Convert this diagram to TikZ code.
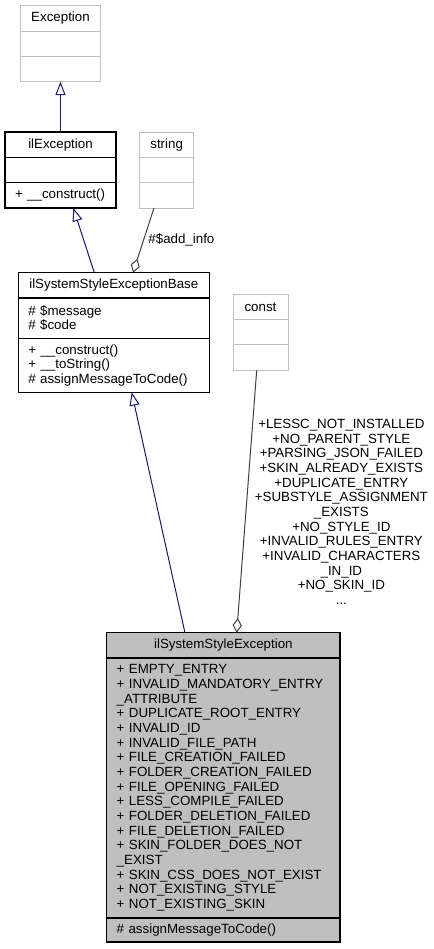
\documentclass[tikz,border=0pt]{standalone}
\usepackage{fontspec}
\setmainfont{Liberation Sans}
\usetikzlibrary{arrows.meta}
\definecolor{grey75}{HTML}{BFBFBF}
\definecolor{grey25}{HTML}{404040}
\definecolor{midnightblue}{HTML}{191970}

\begin{document}
\begin{tikzpicture}[x=0.75pt,y=-0.75pt,
    font=\fontsize{10pt}{11pt}\selectfont,
    part/.style={rectangle,anchor=north west,inner xsep=7.5pt,inner ysep=1pt,outer sep=0pt},
    greybox/.style={part,draw=grey75,line width=0.75pt},
    blackbox/.style={part,draw=black,line width=1pt},
    shaded/.style={fill=grey75},
    inherit/.style={draw=midnightblue,line width=0.75pt,-{Triangle[open,length=10pt,width=7.5pt]}},
    usage/.style={draw=grey25,line width=0.75pt,-{Diamond[open,length=11pt,width=7pt]}}]
  \useasboundingbox (0,0) rectangle (433,949);

  % Exception
  \node[greybox,minimum width=60pt,minimum height=19pt,text width=45pt,align=center] (exc) at (20.5,5.7) {Exception};
  \node[greybox,minimum width=60pt,minimum height=19pt] (exca) at (exc.south west) {};
  \node[greybox,minimum width=60pt,minimum height=19pt] (exco) at (exca.south west) {};

  % ilException
  \node[blackbox,minimum width=83.25pt,minimum height=19pt,text width=68.25pt,align=center] (ilexc) at (5,132) {ilException};
  \node[blackbox,minimum width=83.25pt,minimum height=19pt] (ilexca) at (ilexc.south west) {};
  \node[blackbox,minimum width=83.25pt,minimum height=19pt,text width=68.25pt,align=left] (ilexco) at (ilexca.south west) {+ \_\_construct()};

  % string
  \node[greybox,minimum width=41pt,minimum height=19pt,text width=26pt,align=center] (str) at (139.3,132) {string};
  \node[greybox,minimum width=41pt,minimum height=19pt] (stra) at (str.south west) {};
  \node[greybox,minimum width=41pt,minimum height=19pt] (stro) at (stra.south west) {};

  % ilSystemStyleExceptionBase
  \node[blackbox,minimum width=143.25pt,minimum height=19pt,text width=128.25pt,align=center] (base) at (18.3,272.7) {ilSystemStyleExceptionBase};
  \node[blackbox,minimum width=143.25pt,minimum height=30.2pt,text width=128.25pt,align=left] (basea) at (base.south west) {\# \$message\\\# \$code};
  \node[blackbox,minimum width=143.25pt,minimum height=40.5pt,text width=128.25pt,align=left] (baseo) at (basea.south west) {+ \_\_construct()\\+ \_\_toString()\\\# assignMessageToCode()};

  % const
  \node[greybox,minimum width=41.25pt,minimum height=19pt,text width=26.25pt,align=center] (const) at (233,294.3) {const};
  \node[greybox,minimum width=41.25pt,minimum height=19pt] (consta) at (const.south west) {};
  \node[greybox,minimum width=41.25pt,minimum height=19pt] (consto) at (consta.south west) {};

  % ilSystemStyleException
  \node[blackbox,shaded,minimum width=175pt,minimum height=19pt,text width=160pt,align=center] (ilsse) at (106.7,632.7) {ilSystemStyleException};
  \node[blackbox,shaded,minimum width=175pt,minimum height=195pt,text width=160pt,align=left] (ilssea) at (ilsse.south west) {+ EMPTY\_ENTRY\\+ INVALID\_MANDATORY\_ENTRY\\\_ATTRIBUTE\\+ DUPLICATE\_ROOT\_ENTRY\\+ INVALID\_ID\\+ INVALID\_FILE\_PATH\\+ FILE\_CREATION\_FAILED\\+ FOLDER\_CREATION\_FAILED\\+ FILE\_OPENING\_FAILED\\+ LESS\_COMPILE\_FAILED\\+ FOLDER\_DELETION\_FAILED\\+ FILE\_DELETION\_FAILED\\+ SKIN\_FOLDER\_DOES\_NOT\\\_EXIST\\+ SKIN\_CSS\_DOES\_NOT\_EXIST\\+ NOT\_EXISTING\_STYLE\\+ NOT\_EXISTING\_SKIN};
  \node[blackbox,shaded,minimum width=175pt,minimum height=18pt,text width=160pt,align=left] (ilsseo) at (ilssea.south west) {\# assignMessageToCode()};

  % connectors
  \draw[inherit] (ilexc.north) -- (exco.south);
  \draw[inherit] ([xshift=-14.6pt]base.north) -- ([xshift=9.6pt]ilexco.south);
  \draw[usage] ([xshift=-9.5pt]stro.south) -- node[right] {\#\$add\_info} ([xshift=14.4pt]base.north);
  \draw[inherit] ([xshift=-28.8pt]ilsse.north) -- ([xshift=13.4pt]baseo.south);
  \draw[usage] ([xshift=-2.85pt]consto.south) -- node[pos=0.54,right,xshift=3pt,align=center] {+LESSC\_NOT\_INSTALLED\\+NO\_PARENT\_STYLE\\+PARSING\_JSON\_FAILED\\+SKIN\_ALREADY\_EXISTS\\+DUPLICATE\_ENTRY\\+SUBSTYLE\_ASSIGNMENT\\\_EXISTS\\+NO\_STYLE\_ID\\+INVALID\_RULES\_ENTRY\\+INVALID\_CHARACTERS\\\_IN\_ID\\+NO\_SKIN\_ID\\...} ([xshift=10pt]ilsse.north);
\end{tikzpicture}
\end{document}
